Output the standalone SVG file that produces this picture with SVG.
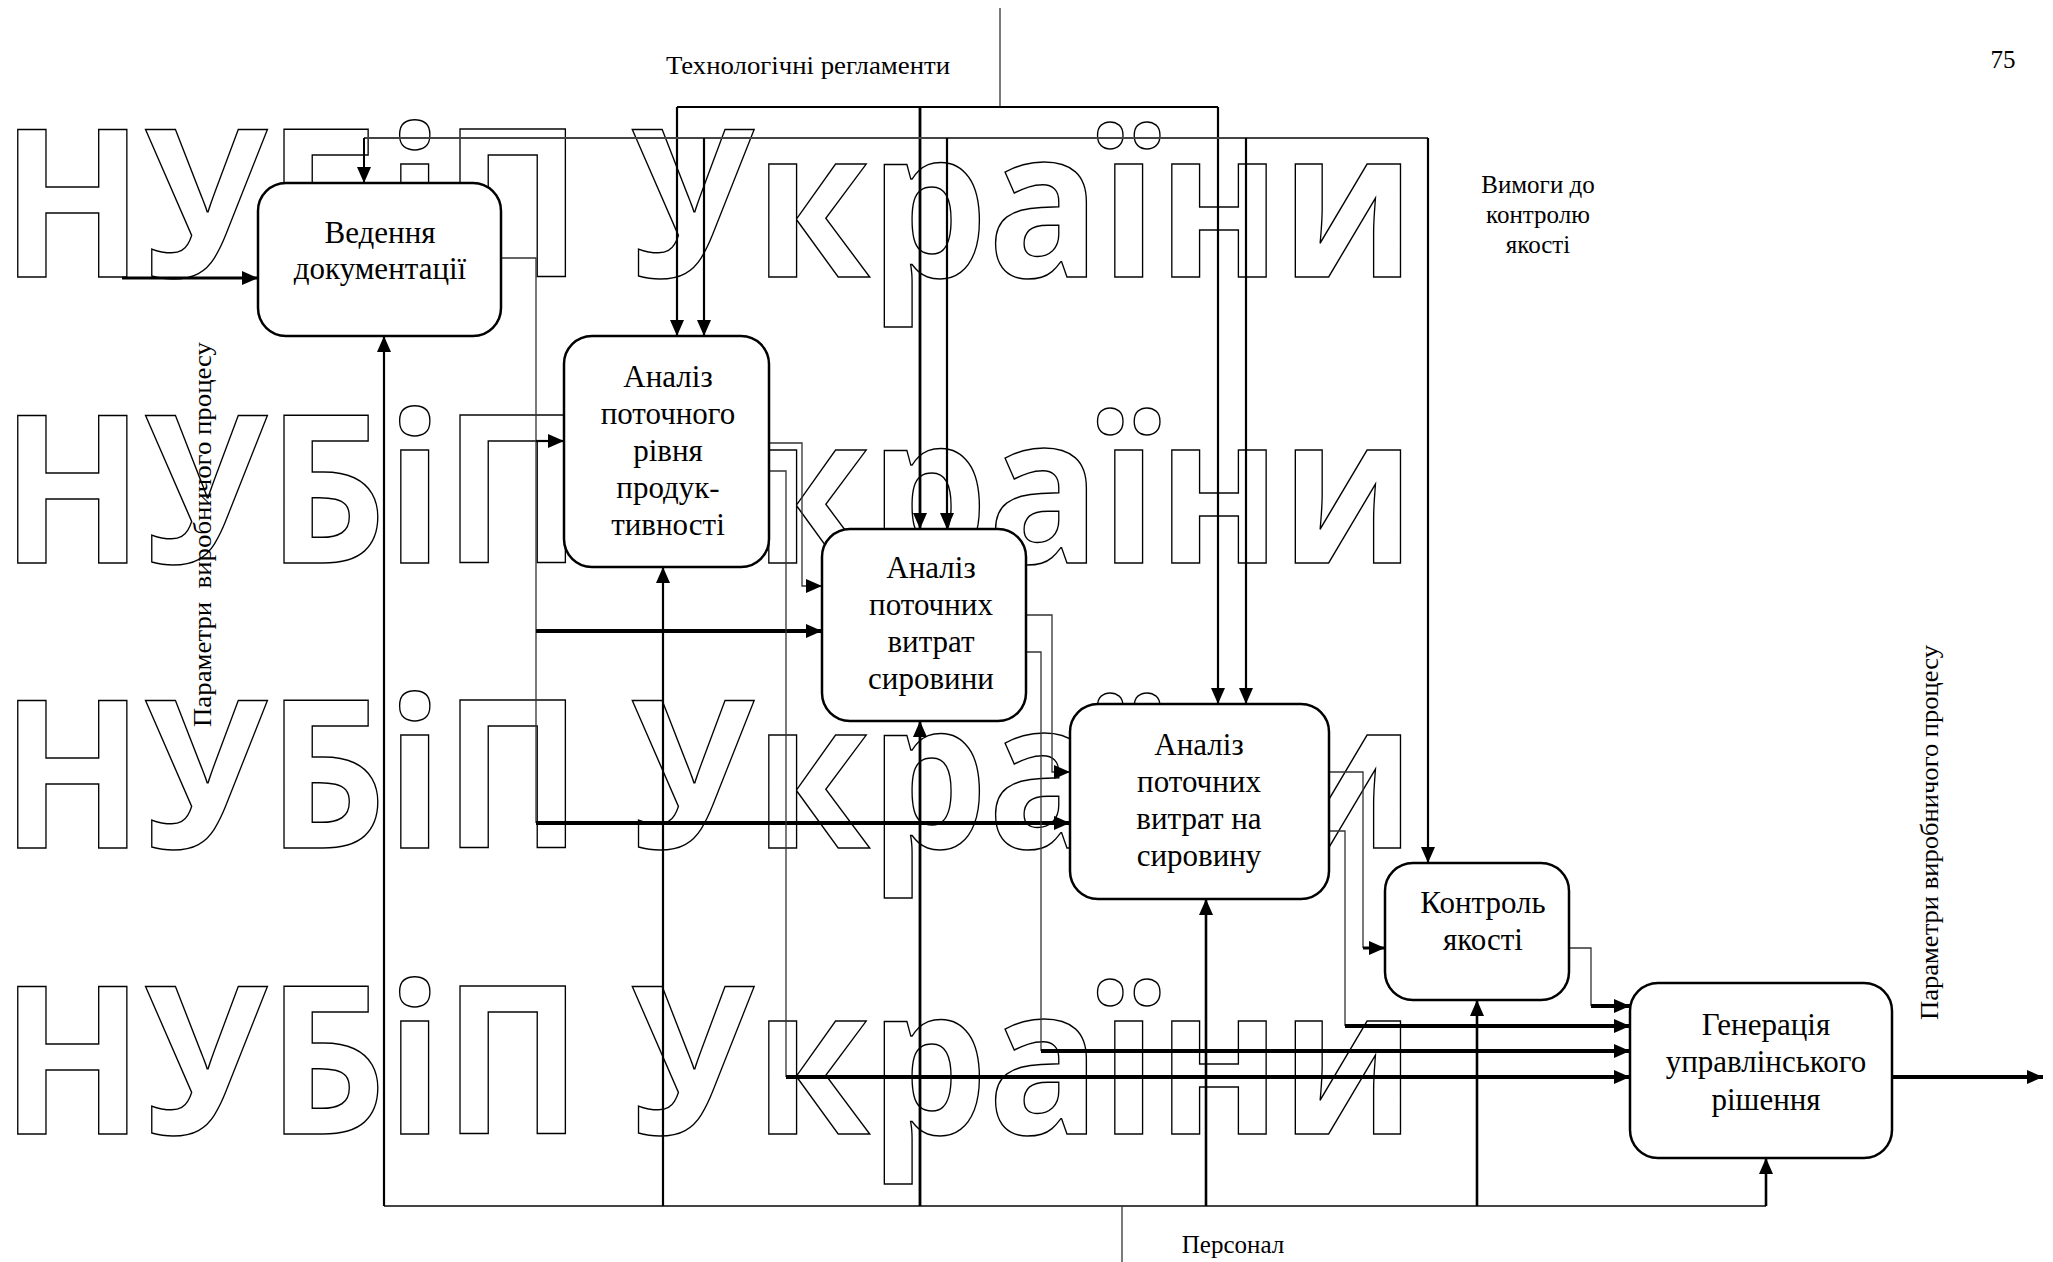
<svg xmlns="http://www.w3.org/2000/svg" width="2053" height="1262" viewBox="0 0 2053 1262">
<style>
.bg{fill:#fff}
.box{fill:#fff;stroke:#000;stroke-width:2.5}
.t{font-family:"Liberation Serif","Times New Roman",serif;font-size:31px;text-anchor:middle;fill:#000}
.ext{font-family:"Liberation Serif","Times New Roman",serif;font-size:25px;fill:#000}
.wm{font-family:"Open Sans","Noto Sans",sans-serif;font-weight:700;font-size:206px;fill:none;stroke:#000;stroke-width:1.5}
.ln{fill:none;stroke:#000;stroke-width:2.2}
.thk{fill:none;stroke:#000;stroke-width:4}
.thin{fill:none;stroke:#333;stroke-width:1.3}
.gray{fill:none;stroke:#444;stroke-width:2}
</style>
<defs>
<marker id="ah" markerUnits="userSpaceOnUse" markerWidth="16" markerHeight="14" refX="16" refY="7" orient="auto">
<path d="M0,0 L16,7 L0,14 z" fill="#000"/>
</marker>
</defs>
<rect class="bg" x="0" y="0" width="2053" height="1262"/>

<g id="watermark">
<text class="wm" x="1" y="277" textLength="1414" lengthAdjust="spacingAndGlyphs">НУБіП України</text>
<text class="wm" x="1" y="563" textLength="1414" lengthAdjust="spacingAndGlyphs">НУБіП України</text>
<text class="wm" x="1" y="848" textLength="1414" lengthAdjust="spacingAndGlyphs">НУБіП України</text>
<text class="wm" x="1" y="1134" textLength="1414" lengthAdjust="spacingAndGlyphs">НУБіП України</text>
</g>

<g id="labels">
<text class="ext" x="808" y="74" text-anchor="middle" textLength="284" lengthAdjust="spacingAndGlyphs">Технологічні регламенти</text>
<text class="ext" x="1538" y="193" text-anchor="middle">Вимоги до</text>
<text class="ext" x="1538" y="223" text-anchor="middle">контролю</text>
<text class="ext" x="1538" y="253" text-anchor="middle">якості</text>
<text class="ext" x="2003" y="68" text-anchor="middle">75</text>
<text class="ext" x="1233" y="1253" text-anchor="middle">Персонал</text>
<text class="ext" transform="translate(211,727) rotate(-90)" style="white-space:pre" textLength="385" lengthAdjust="spacingAndGlyphs">Параметри  виробничого процесу</text>
<text class="ext" transform="translate(1938,1020) rotate(-90)" textLength="375" lengthAdjust="spacingAndGlyphs">Параметри виробничого процесу</text>
</g>

<g id="connectors">
<path class="thin" d="M1000,8 V107"/>
<path class="ln" d="M677,107 H1218" style="stroke-width:1.8"/>
<path class="ln" d="M677,107 V336" marker-end="url(#ah)"/>
<path class="ln" d="M920,107 V529" style="stroke-width:2.8" marker-end="url(#ah)"/>
<path class="ln" d="M1218,107 V704" marker-end="url(#ah)"/>
<path class="gray" d="M364,138 H1428"/>
<path class="ln" d="M364,138 V183" style="stroke-width:2" marker-end="url(#ah)"/>
<path class="ln" d="M704,138 V336" marker-end="url(#ah)"/>
<path class="ln" d="M947,138 V529" marker-end="url(#ah)"/>
<path class="ln" d="M1246,138 V704" marker-end="url(#ah)"/>
<path class="ln" d="M1428,138 V863" marker-end="url(#ah)"/>
<path class="gray" d="M384,1206 H1766"/>
<path class="ln" d="M384,1206 V336" marker-end="url(#ah)"/>
<path class="ln" d="M663,1206 V567" marker-end="url(#ah)"/>
<path class="ln" d="M920,1206 V721" style="stroke-width:2.8" marker-end="url(#ah)"/>
<path class="ln" d="M1206,1206 V899" style="stroke-width:2.6" marker-end="url(#ah)"/>
<path class="ln" d="M1477,1206 V1000" style="stroke-width:2.6" marker-end="url(#ah)"/>
<path class="ln" d="M1766,1206 V1158" style="stroke-width:2.6" marker-end="url(#ah)"/>
<path class="thin" d="M1122,1206 V1262"/>
<path class="ln" d="M122,278 H258" style="stroke-width:3.2" marker-end="url(#ah)"/>
<path class="thin" d="M501,258 H536 V823"/>
<path class="ln" d="M536,441 H564" marker-end="url(#ah)"/>
<path class="thk" d="M536,631 H822" marker-end="url(#ah)"/>
<path class="thk" d="M536,823 H1070" marker-end="url(#ah)"/>
<path class="thin" d="M769,443 H802 V586 H822" marker-end="url(#ah)"/>
<path class="thin" d="M769,471 H786 V1077"/>
<path class="thk" d="M786,1077 H1630" marker-end="url(#ah)"/>
<path class="thin" d="M1026,615 H1052 V772 H1070" marker-end="url(#ah)"/>
<path class="thin" d="M1026,652 H1041 V1051"/>
<path class="thk" d="M1041,1051 H1630" marker-end="url(#ah)"/>
<path class="thin" d="M1329,772 H1363 V948"/>
<path class="ln" d="M1363,948 H1385" style="stroke-width:3" marker-end="url(#ah)"/>
<path class="thin" d="M1329,831 H1345 V1026"/>
<path class="thk" d="M1345,1026 H1630" marker-end="url(#ah)"/>
<path class="thin" d="M1569,948 H1591 V1006"/>
<path class="thk" d="M1591,1006 H1630" marker-end="url(#ah)"/>
<path class="thk" d="M1892,1077 H2043" marker-end="url(#ah)"/>
</g>

<g id="node1">
<rect class="box" x="258" y="183" width="243" height="153" rx="28"/>
<text class="t" x="380" y="243">Ведення</text>
<text class="t" x="380" y="279">документації</text>
</g>
<g id="node2">
<rect class="box" x="564" y="336" width="205" height="231" rx="28"/>
<text class="t" x="668" y="387">Аналіз</text>
<text class="t" x="668" y="424">поточного</text>
<text class="t" x="668" y="461">рівня</text>
<text class="t" x="668" y="498">продук-</text>
<text class="t" x="668" y="535">тивності</text>
</g>
<g id="node3">
<rect class="box" x="822" y="529" width="204" height="192" rx="28"/>
<text class="t" x="931" y="578">Аналіз</text>
<text class="t" x="931" y="615">поточних</text>
<text class="t" x="931" y="652">витрат</text>
<text class="t" x="931" y="689">сировини</text>
</g>
<g id="node4">
<rect class="box" x="1070" y="704" width="259" height="195" rx="28"/>
<text class="t" x="1199" y="755">Аналіз</text>
<text class="t" x="1199" y="792">поточних</text>
<text class="t" x="1199" y="829">витрат на</text>
<text class="t" x="1199" y="866">сировину</text>
</g>
<g id="node5">
<rect class="box" x="1385" y="863" width="184" height="137" rx="28"/>
<text class="t" x="1483" y="913">Контроль</text>
<text class="t" x="1483" y="950">якості</text>
</g>
<g id="node6">
<rect class="box" x="1630" y="983" width="262" height="175" rx="28"/>
<text class="t" x="1766" y="1035">Генерація</text>
<text class="t" x="1766" y="1072">управлінського</text>
<text class="t" x="1766" y="1110">рішення</text>
</g>
</svg>
